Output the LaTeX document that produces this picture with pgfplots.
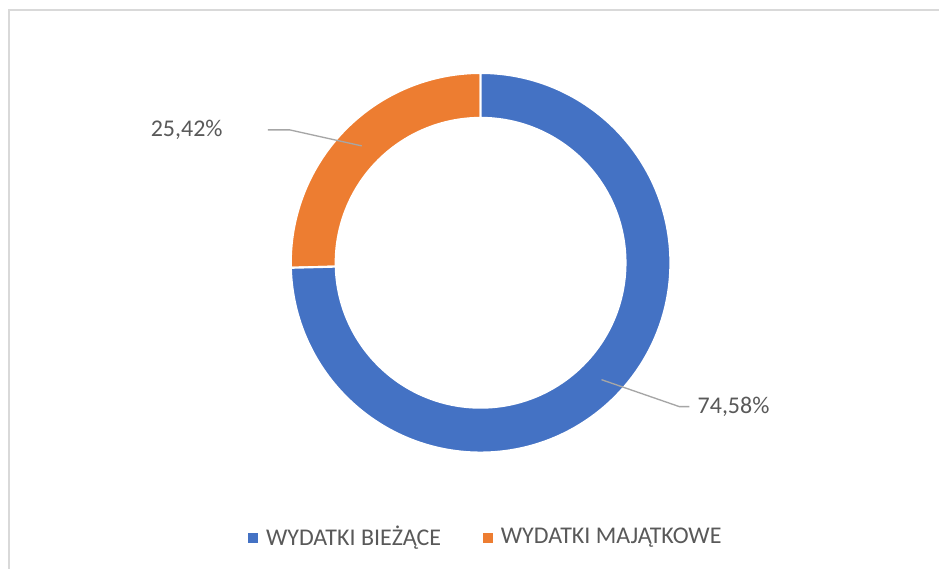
\documentclass[border=0pt]{standalone}
\usepackage{pgfplots}
\pgfplotsset{compat=1.18}
\usepackage{fontspec}
\setmainfont{Carlito}
\definecolor{cblue}{HTML}{4472C4}
\definecolor{corange}{HTML}{ED7D31}
\definecolor{ctext}{HTML}{595959}
\definecolor{cline}{HTML}{A6A6A6}
\definecolor{cframe}{HTML}{D9D9D9}
% data (percent)
\def\valA{74.58} % WYDATKI BIEŻĄCE
\def\valB{25.42} % WYDATKI MAJĄTKOWE
\tikzset{lbl/.style={font=\fontsize{18}{22}\selectfont, text=ctext, inner sep=0pt}}
\begin{document}
\begin{tikzpicture}
\pgfmathsetmacro{\angB}{90+\valB*3.6}
\pgfmathsetmacro{\angA}{\angB+\valA*3.6}
\begin{axis}[
  x=0.75pt, y=0.75pt,
  xmin=0, xmax=940, ymin=0, ymax=569,
  hide axis, clip=false,
]
\fill[white] (axis cs:0,0) rectangle (axis cs:940,569);
\draw[cframe, line width=1.2pt] (axis cs:9,0) -- (axis cs:9,559) -- (axis cs:940,559);
% orange sector
\filldraw[fill=corange, draw=white, line width=1.6pt]
  (axis cs:481,306) ++(90:190) arc[start angle=90, end angle=\angB, radius=190]
  -- ++(\angB:-45) arc[start angle=\angB, end angle=90, radius=145] -- cycle;
% blue sector
\filldraw[fill=cblue, draw=white, line width=1.6pt]
  (axis cs:481,306) ++(\angB:190) arc[start angle=\angB, end angle=\angA, radius=190]
  -- ++(\angA:-45) arc[start angle=\angA, end angle=\angB, radius=145] -- cycle;
% leader lines
\draw[cline, line width=1pt] (axis cs:362,423) -- (axis cs:290,439) -- (axis cs:268,439);
\draw[cline, line width=1pt] (axis cs:602,189) -- (axis cs:680,162) -- (axis cs:690,162);
\node[lbl, anchor=east] at (axis cs:223,439) {25,42\%};
\node[lbl, anchor=west] at (axis cs:698,162) {74,58\%};
% legend
\fill[cblue] (axis cs:248,26) rectangle (axis cs:258,36);
\node[lbl, anchor=west] at (axis cs:266,31) {WYDATKI BIEŻĄCE};
\fill[corange] (axis cs:483,26) rectangle (axis cs:493,36);
\node[lbl, anchor=west] at (axis cs:501,31) {WYDATKI MAJĄTKOWE};
\end{axis}
\end{tikzpicture}
\end{document}
